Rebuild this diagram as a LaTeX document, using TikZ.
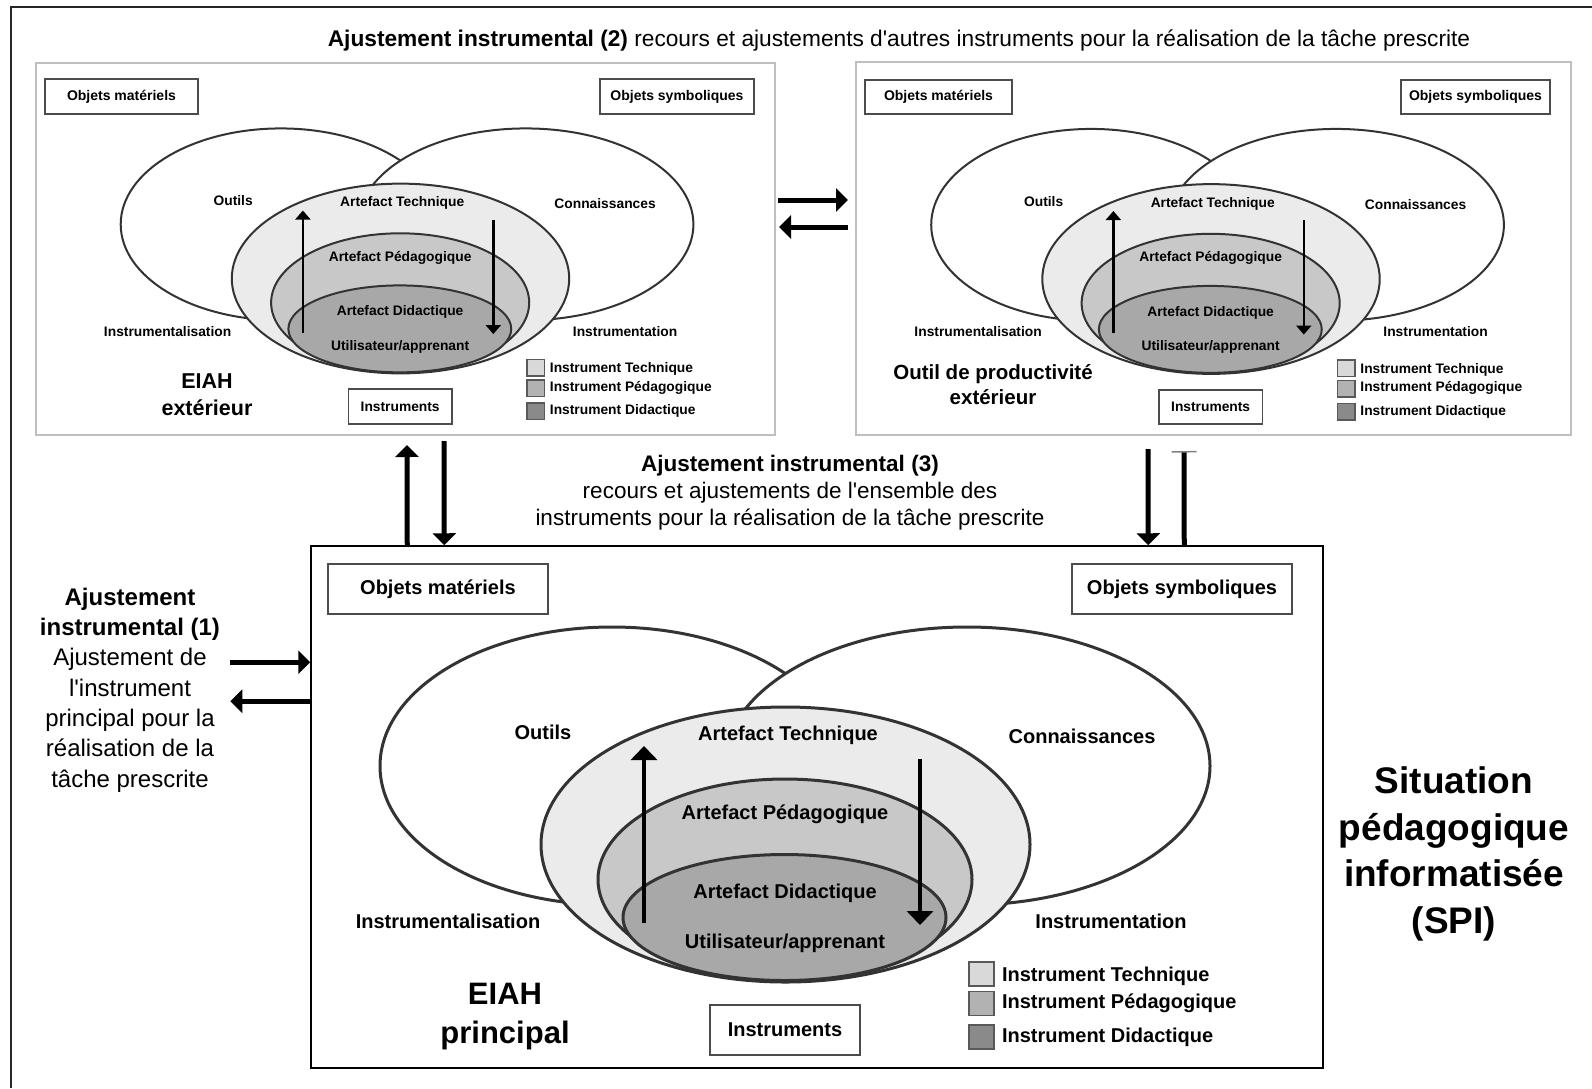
\documentclass[tikz,border=0pt]{standalone}
\usepackage{fontspec}
\setmainfont{Liberation Sans}
\usetikzlibrary{arrows.meta, calc}

\definecolor{techfill}{HTML}{EBEBEB}
\definecolor{pedafill}{HTML}{C8C8C8}
\definecolor{didafill}{HTML}{A8A8A8}
\definecolor{techkey}{HTML}{D9D9D9}
\definecolor{pedakey}{HTML}{B2B2B2}
\definecolor{didakey}{HTML}{8A8A8A}
\definecolor{rimgray}{HTML}{333333}

\tikzset{
  ring/.style={draw=rimgray, line width=3pt},
  lab/.style={font=\fontsize{20}{24}\selectfont\bfseries},
  objbox/.style={draw=black!70, line width=1.8pt, fill=white, inner sep=0pt,
    font=\fontsize{20}{24}\selectfont\bfseries},
  smallbox/.style={line width=1.3pt, font=\fontsize{14}{17}\selectfont\bfseries},
  keybox/.style={draw=black!65, line width=1.5pt, minimum width=25pt,
    minimum height=24pt, inner sep=0pt},
  flow/.style={line width=4pt, -{Triangle[length=14pt, width=26pt]}},
  bigarrow/.style={line width=5pt, -{Triangle[length=12pt, width=23pt]}},
  panel/.style={draw=black!25, line width=2pt, inner sep=0pt},
}

% one instrumental genesis diagram, centred on the technical artefact
\newcommand{\instrgroup}{%
  \draw[ring, fill=white] (-173.5,-78.5) ellipse [x radius=232pt, y radius=139pt];
  \draw[ring, fill=white] (181.5,-78.5) ellipse [x radius=243pt, y radius=139pt];
  \draw[ring, fill=techfill] (0,0) ellipse [x radius=244.5pt, y radius=137.5pt];
  \draw[ring, fill=pedafill] (-0.5,35) ellipse [x radius=187pt, y radius=100.5pt];
  \draw[ring, fill=didafill] (-1,73) ellipse [x radius=161.5pt, y radius=63pt];
  \node[lab] (outils) at (-242.5,-112.5) {Outils};
  \node[lab] (conn) at (296.5,-108.5) {Connaissances};
  \node[lab] (tech) at (2.5,-109.5) {Artefact Technique};
  \node[lab] (peda) at (-0.5,-30.5) {Artefact Pédagogique};
  \node[lab] (dida) at (-0.5,48.5) {Artefact Didactique};
  \node[lab] (user) at (-0.5,98.5) {Utilisateur/apprenant};
  \node[lab] (talis) at (-337.5,76.5) {Instrumentalisation};
  \node[lab] (tion) at (325.5,76.5) {Instrumentation};
  % instrumentalisation up, instrumentation down
  \coordinate (up-s) at (-141.5,78.5);
  \coordinate (up-e) at (-141.5,-98.5);
  \coordinate (dn-s) at (134.5,-85.5);
  \coordinate (dn-e) at (134.5,80.5);
  \draw[flow] (up-s) -- (up-e);
  \draw[flow] (dn-s) -- (dn-e);
  \node[objbox, minimum width=150pt, minimum height=50pt] (instr) at (-0.5,185.5) {Instruments};
  % legend
  \node[keybox, fill=techkey] (key1) at (196,129.5) {};
  \node[keybox, fill=pedakey] (key2) at (196,159) {};
  \node[keybox, fill=didakey] (key3) at (196,192.5) {};
  \node[lab, anchor=west] (key1-t) at (213,131.5) {Instrument Technique};
  \node[lab, anchor=west] (key2-t) at (213,158.5) {Instrument Pédagogique};
  \node[lab, anchor=west] (key3-t) at (213,192.5) {Instrument Didactique};
}

\begin{document}
\begin{tikzpicture}[x=1pt, y=-1pt]
  \useasboundingbox (0,0) rectangle (1592,1088);
  % SPI frame
  \draw[line width=2.5pt, black!85] (11,1088) |- (1592,7);
  % Panels
  \node[panel, minimum width=739.5pt, minimum height=372pt] (tl) at (405.25,249) {};
  \node[panel, minimum width=715.5pt, minimum height=373pt] (tr) at (1213.25,248.5) {};
  \node[panel, draw=black, line width=1.5pt, minimum width=1012pt, minimum height=522pt] (main) at (817,807) {};

  % Main EIAH
  \begin{scope}[shift={(785.5,844.5)}, transform shape, name prefix=m-]
    \instrgroup
  \end{scope}
  % Outside EIAH (left) and productivity tool (right)
  \begin{scope}[shift={(400.5,278.5)}, scale=0.69, transform shape, name prefix=tl-,
      ring/.style={draw=rimgray, line width=2pt},
      flow/.style={line width=2.4pt, -{Triangle[length=9pt, width=15pt]}}]
    \instrgroup
  \end{scope}
  \begin{scope}[shift={(1211,279)}, scale=0.69, transform shape, name prefix=tr-,
      ring/.style={draw=rimgray, line width=2pt},
      flow/.style={line width=2.4pt, -{Triangle[length=9pt, width=15pt]}}]
    \instrgroup
  \end{scope}

  % Object boxes
  \node[objbox, minimum width=220pt, minimum height=50pt] (m-mat) at (438,589) {Objets matériels};
  \node[objbox, minimum width=220pt, minimum height=50pt] (m-sym) at (1182,589) {Objets symboliques};
  \node[objbox, smallbox, minimum width=153pt, minimum height=35pt] (tl-mat) at (121.5,96.5) {Objets matériels};
  \node[objbox, smallbox, minimum width=154pt, minimum height=35pt] (tl-sym) at (677,96.5) {Objets symboliques};
  \node[objbox, smallbox, minimum width=147pt, minimum height=34pt] (tr-mat) at (938.5,97) {Objets matériels};
  \node[objbox, smallbox, minimum width=149pt, minimum height=34pt] (tr-sym) at (1475.5,97) {Objets symboliques};

  % Names
  \node[font=\fontsize{31}{39}\selectfont\bfseries, align=center] (m-name) at (505,1017) {EIAH\\principal};
  \node[font=\fontsize{21.5}{27}\selectfont\bfseries, align=center] (tl-name) at (207,395) {EIAH\\extérieur};
  \node[font=\fontsize{20.5}{25}\selectfont\bfseries, align=center] (tr-name) at (993,385) {Outil de productivité\\extérieur};
  \node[font=\fontsize{37}{46.5}\selectfont\bfseries, align=center] (spi) at (1454,854) {Situation\\pédagogique\\informatisée\\(SPI)};

  % Adjustments
  \node[font=\fontsize{22.7}{27}\selectfont] (adj2) at (899,40.6) {\textbf{Ajustement instrumental (2)} recours et ajustements d\textquotesingle autres instruments pour la réalisation de la tâche prescrite};
  \node[font=\fontsize{22.5}{27}\selectfont, align=center] (adj3) at (790,493) {\textbf{Ajustement instrumental (3)}\\recours et ajustements de l\textquotesingle ensemble des\\instruments pour la réalisation de la tâche prescrite};
  \node[font=\fontsize{24}{30.3}\selectfont, align=center] (adj1) at (130,690) {\textbf{Ajustement}\\\textbf{instrumental (1)}\\Ajustement de\\l\textquotesingle instrument\\principal pour la\\réalisation de la\\tâche prescrite};

  \draw[bigarrow] ($(tl.east)+(2,-49)$) -- ($(tr.west)+(-6.5,-48.5)$);
  \draw[bigarrow] ($(tr.west)+(-6.5,-21.5)$) -- ($(tl.east)+(3,-22)$);
  \draw[bigarrow] ($(main.north west)+(97,0)$) -- ($(tl.south west)+(372.5,9)$);
  \draw[bigarrow] ($(tl.south west)+(409.5,5)$) -- ($(main.north west)+(134,0)$);
  \draw[bigarrow] ($(tr.south west)+(293.5,13)$) -- ($(main.north west)+(838,0)$);
  \draw[line width=5pt, {Bar[width=25pt, line width=1.5pt, color=black!50]}-] ($(tr.south west)+(329.5,15)$) -- ($(main.north west)+(874,0)$);
  \draw[bigarrow] ($(main.north west)+(-80,117)$) -- ($(main.north west)+(0,117)$);
  \draw[bigarrow] ($(main.north west)+(0,156)$) -- ($(main.north west)+(-80,156)$);
\end{tikzpicture}
\end{document}
